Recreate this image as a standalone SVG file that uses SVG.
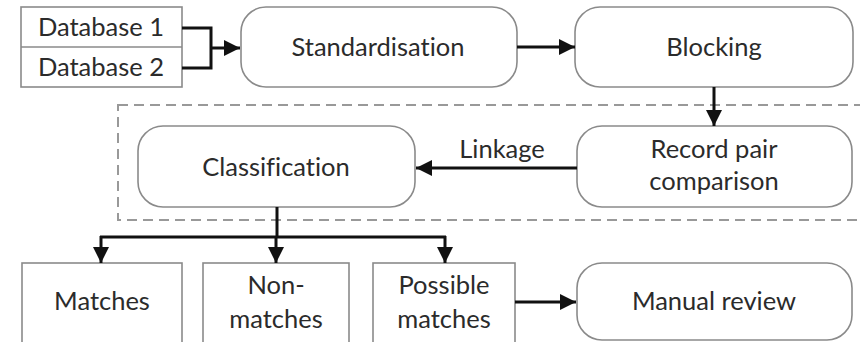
<svg xmlns="http://www.w3.org/2000/svg" width="860" height="342" viewBox="0 0 860 342">
  <defs>
    <marker id="arrow" viewBox="0 0 16 16" refX="16" refY="8" markerWidth="16" markerHeight="16" markerUnits="userSpaceOnUse" orient="auto">
      <path d="M0,0 L16,8 L0,16 Z" fill="#111"/>
    </marker>
    <style>
      .box { fill: #fff; stroke: #8a8a8a; stroke-width: 1.6; }
      .lbl { font-family: Lato, "Liberation Sans", sans-serif; font-size: 25.5px; fill: #2b2b2b; text-anchor: middle; font-variant-ligatures: none; }
      .conn { fill: none; stroke: #111; stroke-width: 3; }
      .frame { fill: none; stroke: #999; stroke-width: 2; stroke-dasharray: 10 6; }
    </style>
  </defs>
  <rect width="860" height="342" fill="#fff"/>

  <!-- linkage stage frame -->
  <rect class="frame" x="118" y="105" width="760" height="115"/>

  <g id="databases">
    <rect class="box" x="21" y="7" width="161" height="80"/>
    <line x1="21" y1="47" x2="182" y2="47" stroke="#8a8a8a" stroke-width="1.6"/>
    <text class="lbl" x="101" y="36">Database 1</text>
    <text class="lbl" x="101" y="76">Database 2</text>
  </g>

  <g id="standardisation">
    <rect class="box" x="241" y="7" width="276" height="80" rx="25"/>
    <text class="lbl" x="378" y="56">Standardisation</text>
  </g>

  <g id="blocking">
    <rect class="box" x="575" y="7" width="278" height="80" rx="25"/>
    <text class="lbl" x="714" y="56">Blocking</text>
  </g>

  <g id="record-pair-comparison">
    <rect class="box" x="577" y="126" width="275" height="81" rx="25"/>
    <text class="lbl" x="714" y="158">Record pair</text>
    <text class="lbl" x="714" y="190">comparison</text>
  </g>

  <g id="classification">
    <rect class="box" x="138" y="126" width="277" height="81" rx="25"/>
    <text class="lbl" x="276" y="176">Classification</text>
  </g>

  <g id="matches">
    <rect class="box" x="22" y="263" width="160" height="90"/>
    <text class="lbl" x="102" y="310">Matches</text>
  </g>

  <g id="non-matches">
    <rect class="box" x="203" y="263" width="146" height="90"/>
    <text class="lbl" x="276" y="294">Non-</text>
    <text class="lbl" x="276" y="328">matches</text>
  </g>

  <g id="possible-matches">
    <rect class="box" x="373" y="263" width="142" height="90"/>
    <text class="lbl" x="444" y="294">Possible</text>
    <text class="lbl" x="444" y="328">matches</text>
  </g>

  <g id="manual-review">
    <rect class="box" x="577" y="263" width="275" height="77" rx="25"/>
    <text class="lbl" x="714" y="310">Manual review</text>
  </g>

  <g id="connectors">
    <polyline class="conn" points="182,28 211,28 211,68 182,68"/>
    <line class="conn" x1="211" y1="48" x2="240" y2="48" marker-end="url(#arrow)"/>
    <line class="conn" x1="517" y1="47" x2="575" y2="47" marker-end="url(#arrow)"/>
    <line class="conn" x1="714" y1="87" x2="714" y2="126" marker-end="url(#arrow)"/>
    <line class="conn" x1="577" y1="168" x2="416" y2="168" marker-end="url(#arrow)"/>
    <text class="lbl" x="502" y="158">Linkage</text>
    <line class="conn" x1="277" y1="207" x2="277" y2="237"/>
    <line class="conn" x1="100" y1="237" x2="446" y2="237"/>
    <line class="conn" x1="101" y1="236" x2="101" y2="263" marker-end="url(#arrow)"/>
    <line class="conn" x1="276" y1="236" x2="276" y2="263" marker-end="url(#arrow)"/>
    <line class="conn" x1="445" y1="236" x2="445" y2="263" marker-end="url(#arrow)"/>
    <line class="conn" x1="515" y1="302" x2="576" y2="302" marker-end="url(#arrow)"/>
  </g>
</svg>
